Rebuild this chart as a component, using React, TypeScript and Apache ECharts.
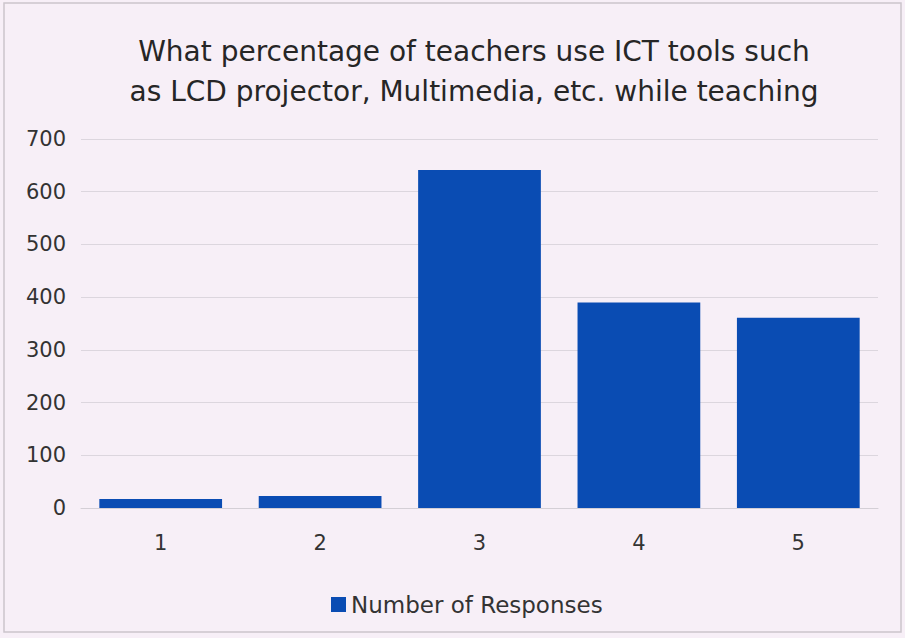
import React, { useEffect, useRef } from "react";
import * as echarts from "echarts";

const categories = ["1", "2", "3", "4", "5"];
const responses = [17, 23, 641, 390, 361];
const seriesName = "Number of Responses";
const titleText = "What percentage of teachers use ICT tools such\nas LCD projector, Multimedia, etc. while teaching";

export default function App() {
  const ref = useRef<HTMLDivElement>(null);
  useEffect(() => {
    if (!ref.current) return;
    const chart = echarts.init(ref.current, null, { renderer: "svg" });
    chart.setOption({
      animation: false,
      backgroundColor: "#f7eff7",
      title: {
        text: titleText,
        left: 469,
        top: 26,
        textAlign: "center",
        textStyle: {
          fontFamily: "DejaVu Sans",
          fontWeight: "normal",
          fontSize: 28,
          lineHeight: 40,
          color: "#262626",
        },
      },
      graphic: [
        {
          type: "rect",
          shape: { x: 4, y: 3, width: 897, height: 629 },
          style: { fill: "none", stroke: "#cbc5cc", lineWidth: 1.5 },
          silent: true,
        },
      ],
      legend: {
        top: 588,
        left: 326,
        itemWidth: 15,
        itemHeight: 15,
        itemGap: 6,
        icon: "rect",
        data: [seriesName],
        textStyle: { fontFamily: "DejaVu Sans", fontSize: 23, color: "#333" },
      },
      grid: { left: 81, right: 27, top: 139, bottom: 130, containLabel: false },
      xAxis: {
        type: "category",
        data: categories,
        axisLine: { show: true, lineStyle: { color: "#d4cfd6" } },
        axisTick: { show: false },
        axisLabel: {
          fontFamily: "DejaVu Sans",
          fontSize: 21,
          color: "#333",
          margin: 24,
        },
      },
      yAxis: {
        type: "value",
        min: 0,
        max: 700,
        interval: 100,
        axisLine: { show: false },
        axisTick: { show: false },
        splitLine: { lineStyle: { color: "#dcd6de", width: 1 } },
        axisLabel: {
          fontFamily: "DejaVu Sans",
          fontSize: 21,
          color: "#333",
          margin: 15,
        },
      },
      series: [
        {
          name: seriesName,
          type: "bar",
          data: responses,
          barCategoryGap: "23%",
          itemStyle: { color: "#0a4cb3" },
        },
      ],
    });
    return () => chart.dispose();
  }, []);
  return <div ref={ref} style={{ width: 905, height: 638, position: "absolute", left: 0, top: 0 }} />;
}
